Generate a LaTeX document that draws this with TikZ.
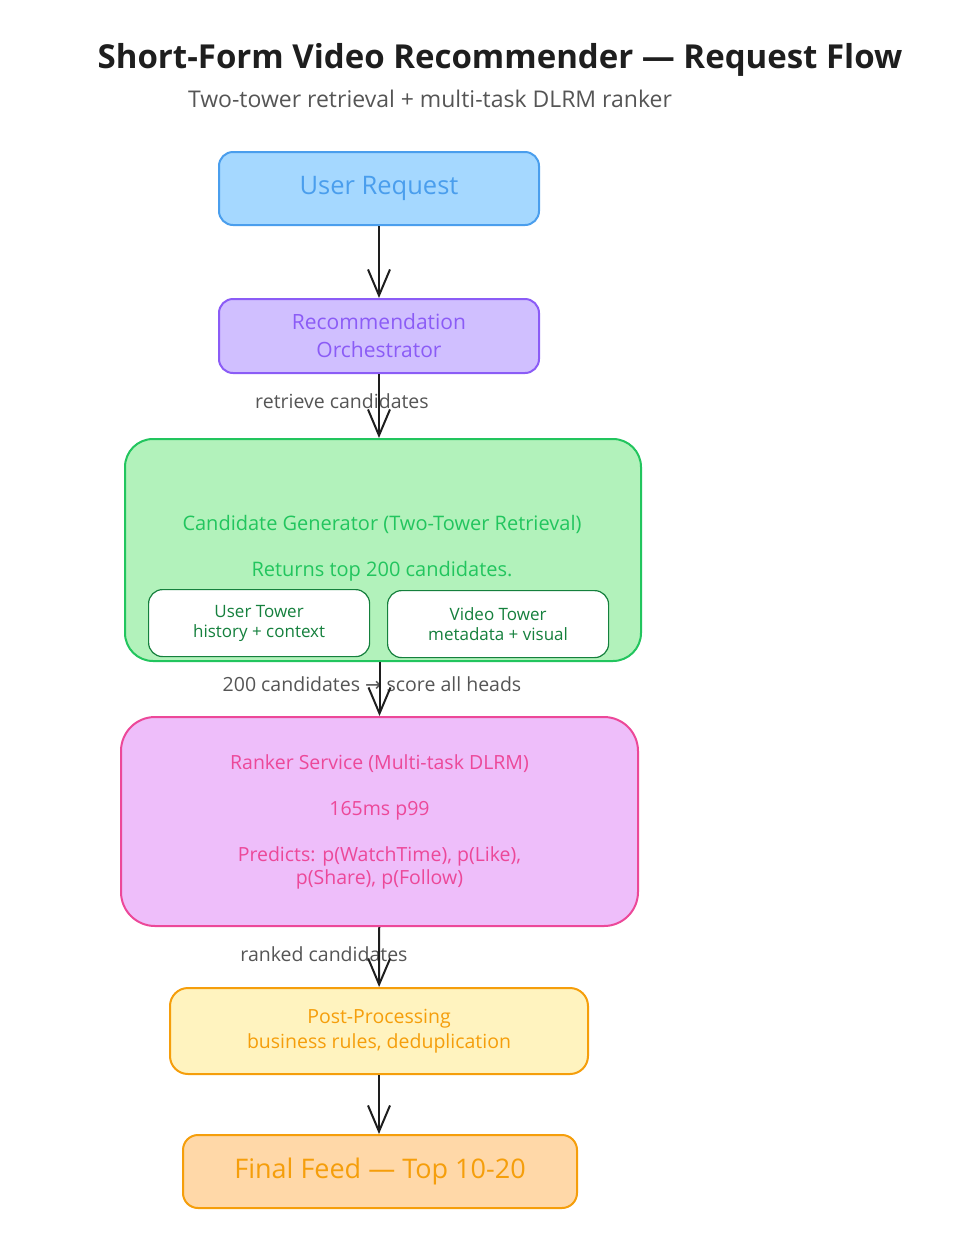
\documentclass[tikz,border=0pt]{standalone}
\usepackage{fontspec}
\setmainfont{Open Sans}
\newfontfamily\symbfont{DejaVu Sans}
\usetikzlibrary{arrows.meta}
\definecolor{inkdark}{HTML}{1E1E1E}
\definecolor{labelgray}{HTML}{555555}
\definecolor{reqfill}{HTML}{A5D8FF}
\definecolor{reqline}{HTML}{4A9EED}
\definecolor{orchfill}{HTML}{D0BFFF}
\definecolor{orchline}{HTML}{8B5CF6}
\definecolor{genfill}{HTML}{B2F2BB}
\definecolor{genline}{HTML}{22C55E}
\definecolor{towerline}{HTML}{15803D}
\definecolor{rankfill}{HTML}{EEBEFA}
\definecolor{rankline}{HTML}{EC4899}
\definecolor{postfill}{HTML}{FFF3BF}
\definecolor{postline}{HTML}{F59E0B}
\definecolor{feedfill}{HTML}{FFD8A8}

\begin{document}
\begin{tikzpicture}[x=1pt,y=-1pt,line width=2pt,
        every node/.style={inner sep=0pt,align=center},
        >={Straight Barb[length=26pt,width=22pt,line width=2pt]},
        box/.style={draw,rounded corners=14pt,anchor=north west},
        lbl/.style={text=labelgray,font=\fontsize{19.5}{22}\selectfont}]
        \useasboundingbox (0,0) rectangle (976,1254);
        % heading
        \node[font=\fontsize{33}{38}\selectfont\bfseries,text=inkdark] (title) at (500,60)
          {Short-Form Video Recommender --- Request Flow};
        \node[font=\fontsize{23}{26}\selectfont,text=labelgray] (subtitle) at (430,99)
          {Two-tower retrieval + multi-task DLRM ranker};
        % boxes
        \node[box,draw=reqline,fill=reqfill,text=reqline,minimum width=320,minimum height=73,
          font=\fontsize{25.5}{28}\selectfont] (req) at (218,151) {User Request};
        \node[box,draw=orchline,fill=orchfill,text=orchline,minimum width=320,minimum height=74,
          font=\fontsize{21}{28}\selectfont] (orch) at (218,298) {Recommendation\\Orchestrator};
        \node[box,draw=genline,fill=genfill,rounded corners=28pt,minimum width=516,minimum height=222]
          (gen) at (124,438) {};
        \node[text=genline,font=\fontsize{20}{23}\selectfont] (gentext) at (382,548)
          {Candidate Generator (Two-Tower Retrieval)\\[23pt]Returns top 200 candidates.};
        \node[box,draw=towerline,fill=white,text=towerline,line width=1.2pt,minimum width=221,minimum height=67,
          font=\fontsize{17}{20}\selectfont] (usert) at (148,589) {User Tower\\history + context};
        \node[box,draw=towerline,fill=white,text=towerline,line width=1.2pt,minimum width=221,minimum height=67,
          font=\fontsize{17}{20}\selectfont] (videot) at (387,590) {Video Tower\\metadata + visual};
        \node[box,draw=rankline,fill=rankfill,text=rankline,rounded corners=34pt,minimum width=517,minimum height=209,
          font=\fontsize{19.5}{23}\selectfont] (rank) at (120,716)
          {Ranker Service (Multi-task DLRM)\\[23pt]165ms p99\\[23pt]Predicts: p(WatchTime), p(Like),\\p(Share), p(Follow)};
        \node[box,draw=postline,fill=postfill,text=postline,rounded corners=18pt,minimum width=418,minimum height=86,
          font=\fontsize{19.5}{25}\selectfont] (post) at (169,987) {Post-Processing\\business rules, deduplication};
        \node[box,draw=postline,fill=feedfill,text=postline,rounded corners=15pt,minimum width=394,minimum height=73,
          font=\fontsize{27}{30}\selectfont] (feed) at (182,1134) {Final Feed --- Top 10-20};
        % edge labels
        \node[lbl] (lretrieve) at (342,401) {retrieve candidates};
        \node[lbl] (lscore) at (372,684) {200 candidates {\symbfont →} score all heads};
        \node[lbl] (lranked) at (324,954) {ranked candidates};
        % connectors
        \draw[->,inkdark] (req) -- (orch);
        \draw[->,inkdark] (orch.south) -- (orch.south |- gen.north);
        \draw[->,inkdark] (rank.north |- gen.south) -- (rank.north);
        \draw[->,inkdark] (rank) -- (post);
        \draw[->,inkdark] (post) -- (post.south |- feed.north);
\end{tikzpicture}
\end{document}
